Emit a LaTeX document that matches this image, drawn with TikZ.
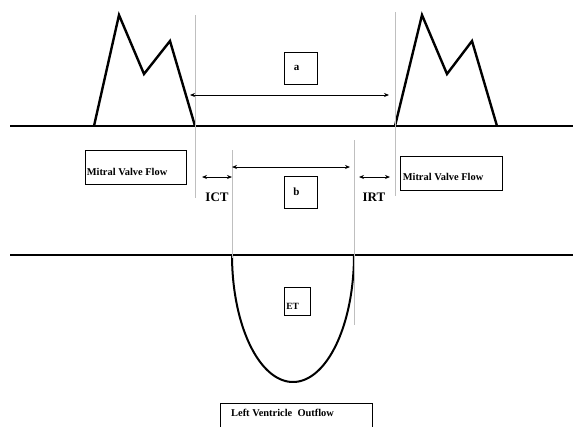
\documentclass[tikz,border=0pt]{standalone}
\usepackage{fontspec}
\setmainfont{Liberation Serif}
\usetikzlibrary{arrows.meta}

\tikzset{
  base/.style={line width=2.6pt},
  wave/.style={line width=2.4pt, line join=miter},
  guide/.style={gray!50, line width=0.6pt},
  box/.style={draw, line width=0.8pt, inner sep=0pt},
  lbl/.style={font=\bfseries\fontsize{10.4}{12}\selectfont, inner sep=0pt},
  span/.style={<->, line width=0.8pt}
}

\begin{document}
\begin{tikzpicture}[x=1pt, y=-1pt, >={Stealth[length=5pt, width=4pt]}]
        \useasboundingbox (0,0) rectangle (573,426);
        \clip (0,0) rectangle (573,426);

        % Baselines
        \draw[base] (10,126) -- (573,126);
        \draw[base] (10,255) -- (573,255);

        % Mitral inflow (E and A waves)
        \draw[wave] (94,126) -- (119,15) -- (144,74) -- (170,41) -- (195,126);
        \draw[wave] (395,126) -- (422,15) -- (447,74) -- (472,41) -- (497,126);

        % Outflow (ejection)
        \draw[line width=2pt, domain=0:180, samples=90, smooth]
              plot ({293+61*cos(\x)}, {255+127*sin(\x)});

        % Timing guides
        \draw[guide] (195,15) -- (195,198);
        \draw[guide] (395,12) -- (395,196);
        \draw[guide] (232,150) -- (232,258);
        \draw[guide] (354,140) -- (354,325);

        % Interval arrows
        \coordinate (aL) at (190,95);
        \coordinate (aR) at (389,95);
        \coordinate (bL) at (232,167);
        \coordinate (bR) at (350,167);
        \coordinate (ictL) at (202,177);
        \coordinate (ictR) at (232,177);
        \coordinate (irtL) at (359,177);
        \coordinate (irtR) at (390,177);
        \draw[span] (aL) -- (aR);
        \draw[span] (bL) -- (bR);
        \draw[span] (ictL) -- (ictR);
        \draw[span] (irtL) -- (irtR);
        \node[lbl, font=\bfseries\fontsize{13}{15}\selectfont] (ict) at (217,197) {ICT};
        \node[lbl, font=\bfseries\fontsize{13}{15}\selectfont] (irt) at (374,197) {IRT};

        % Labels
        \node[box, minimum width=33pt, minimum height=32pt] (boxa) at (300.5,68) {};
        \node[lbl, font=\bfseries\fontsize{11}{12}\selectfont] (la) at ([xshift=-4pt]boxa.center) {a};
        \node[box, minimum width=33pt, minimum height=32pt] (boxb) at (300.5,192) {};
        \node[lbl, font=\bfseries\fontsize{11}{12}\selectfont] (lb) at ([xshift=-4pt]boxb.center) {b};
        \node[box, minimum width=26pt, minimum height=28pt] (boxet) at (297,301) {};
        \node[lbl, font=\bfseries\fontsize{9.5}{11}\selectfont, anchor=west] (let) at ([xshift=2.5pt, yshift=-5pt]boxet.west) {ET};

        \node[box, minimum width=101pt, minimum height=34pt] (mvl) at (135.5,167) {};
        \node[lbl, anchor=west] (lmvl) at ([xshift=2pt, yshift=-5pt]mvl.west) {Mitral Valve Flow};
        \node[box, minimum width=102pt, minimum height=34pt] (mvr) at (451,173) {};
        \node[lbl, anchor=west] (lmvr) at ([xshift=3pt, yshift=-4pt]mvr.west) {Mitral Valve Flow};

        \node[box, anchor=north west, minimum width=152pt, minimum height=40pt] (lvo) at (220,403) {};
        \node[lbl, anchor=west] (llvo) at (231,413) {Left Ventricle~ Outflow};
\end{tikzpicture}
\end{document}
